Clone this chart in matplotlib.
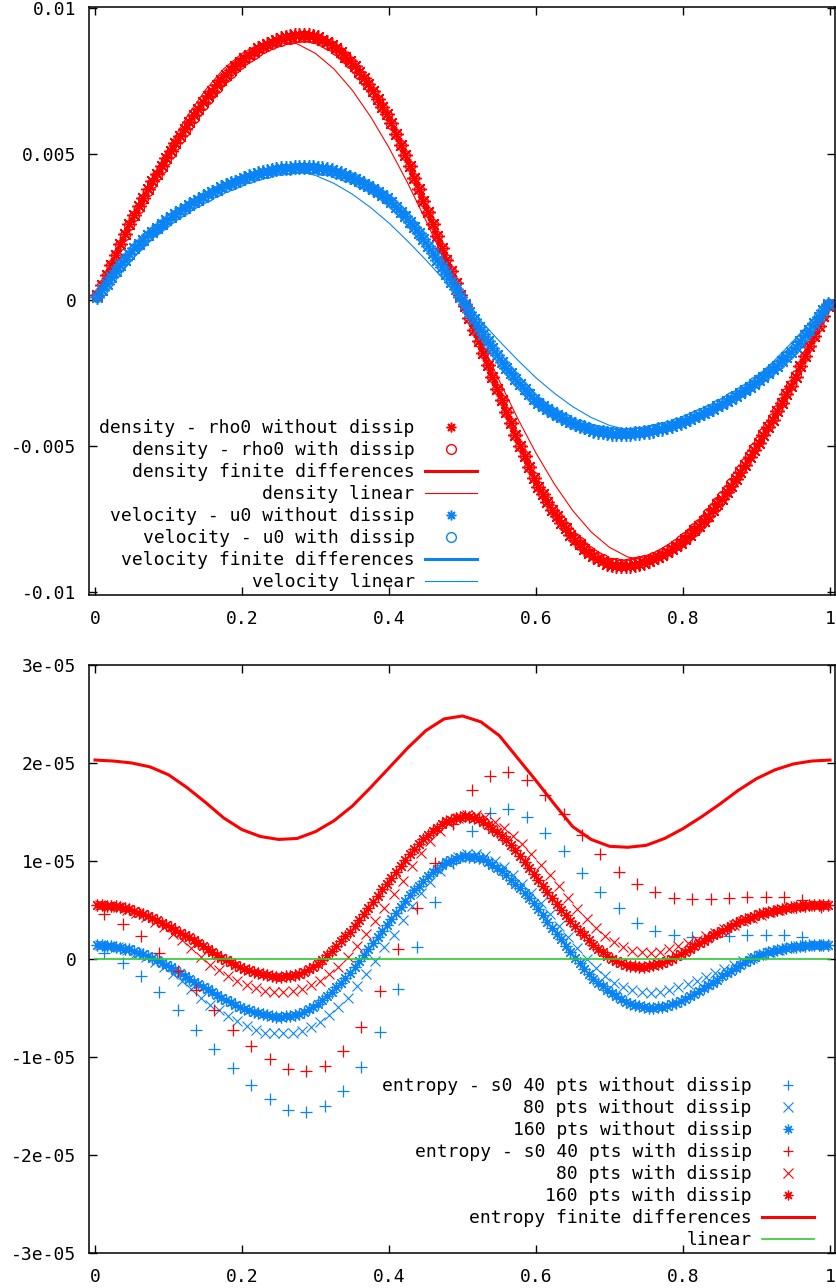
import numpy as np
import matplotlib
matplotlib.use("Agg")
import matplotlib.pyplot as plt
from matplotlib.ticker import FormatStrFormatter

plt.rcParams['font.family'] = ['DejaVu Sans Mono']
plt.rcParams['axes.unicode_minus'] = False

RED = '#ff0000'
BLUE = '#0a84f5'
GREEN = '#2ec82e'

# ---------------- top panel: density and velocity (values in 1e-5) ----------------
n_top = 160
density_nodiss = [
    18, 53, 88, 123, 157, 192, 226, 261, 293, 322, 351, 380, 408, 434, 461, 487,
    513, 538, 563, 588, 611, 634, 656, 679, 699, 718, 737, 756, 773, 788, 803, 818,
    830, 841, 852, 863, 872, 879, 886, 893, 898, 902, 905, 909, 910, 909, 908, 907,
    902, 893, 885, 876, 864, 850, 834, 820, 802, 781, 761, 740, 717, 691, 664, 638,
    607, 571, 534, 498, 460, 421, 381, 342, 302, 261, 221, 180, 140, 100, 60, 20,
    -20, -60, -100, -140, -180, -221, -261, -302, -342, -381, -421, -460, -498, -534, -571, -607,
    -638, -664, -691, -717, -740, -761, -781, -802, -820, -834, -850, -864, -876, -885, -893, -902,
    -907, -908, -909, -910, -909, -905, -902, -898, -893, -886, -879, -872, -863, -852, -841, -830,
    -818, -803, -788, -773, -756, -737, -718, -699, -679, -656, -634, -611, -588, -563, -538, -513,
    -487, -461, -434, -408, -380, -351, -322, -293, -261, -226, -192, -157, -123, -88, -53, -18]
density_diss = [
    17, 52, 86, 121, 155, 189, 223, 257, 289, 318, 347, 376, 403, 429, 455, 481,
    506, 531, 556, 581, 604, 626, 649, 671, 691, 710, 729, 748, 765, 780, 795, 810,
    822, 833, 844, 855, 864, 871, 878, 885, 890, 894, 897, 901, 903, 902, 901, 900,
    895, 887, 878, 870, 859, 844, 829, 814, 797, 777, 757, 737, 714, 688, 662, 636,
    605, 569, 534, 498, 460, 421, 381, 342, 302, 262, 221, 181, 141, 101, 60, 20,
    -20, -60, -101, -141, -181, -221, -262, -302, -342, -381, -421, -460, -498, -534, -569, -605,
    -636, -662, -688, -714, -737, -757, -777, -797, -814, -829, -844, -859, -870, -878, -887, -895,
    -900, -901, -902, -903, -901, -897, -894, -890, -885, -878, -871, -864, -855, -844, -833, -822,
    -810, -795, -780, -765, -748, -729, -710, -691, -671, -649, -626, -604, -581, -556, -531, -506,
    -481, -455, -429, -403, -376, -347, -318, -289, -257, -223, -189, -155, -121, -86, -52, -17]
velocity_nodiss = [
    11, 34, 56, 79, 100, 120, 140, 160, 178, 193, 208, 223, 236, 249, 261, 274,
    285, 296, 306, 317, 327, 336, 345, 354, 363, 371, 379, 387, 394, 401, 407, 414,
    420, 425, 430, 435, 439, 442, 446, 449, 452, 454, 455, 457, 458, 457, 457, 456,
    455, 452, 449, 446, 441, 435, 430, 424, 417, 409, 400, 392, 383, 372, 361, 350,
    337, 321, 304, 288, 270, 250, 230, 210, 188, 164, 139, 115, 90, 64, 39, 13,
    -13, -39, -64, -90, -115, -139, -164, -188, -210, -230, -250, -270, -288, -304, -321, -337,
    -350, -361, -372, -383, -392, -400, -409, -417, -424, -430, -435, -441, -446, -449, -452, -455,
    -456, -457, -457, -458, -457, -455, -454, -452, -449, -446, -442, -439, -435, -430, -425, -420,
    -414, -407, -401, -394, -387, -379, -371, -363, -354, -345, -336, -327, -317, -306, -296, -285,
    -274, -261, -249, -236, -223, -208, -193, -178, -160, -140, -120, -100, -79, -56, -34, -11]
velocity_diss = [
    11, 33, 55, 77, 98, 118, 137, 157, 175, 190, 205, 220, 233, 245, 258, 270,
    281, 292, 302, 313, 323, 332, 341, 350, 359, 367, 375, 383, 390, 397, 403, 410,
    416, 421, 426, 431, 435, 438, 442, 445, 448, 450, 451, 453, 454, 453, 453, 452,
    451, 448, 445, 442, 438, 433, 427, 422, 415, 407, 399, 391, 382, 371, 360, 349,
    336, 320, 304, 288, 270, 250, 230, 210, 188, 164, 139, 115, 90, 64, 39, 13,
    -13, -39, -64, -90, -115, -139, -164, -188, -210, -230, -250, -270, -288, -304, -320, -336,
    -349, -360, -371, -382, -391, -399, -407, -415, -422, -427, -433, -438, -442, -445, -448, -451,
    -452, -453, -453, -454, -453, -451, -450, -448, -445, -442, -438, -435, -431, -426, -421, -416,
    -410, -403, -397, -390, -383, -375, -367, -359, -350, -341, -332, -323, -313, -302, -292, -281,
    -270, -258, -245, -233, -220, -205, -190, -175, -157, -137, -118, -98, -77, -55, -33, -11]

x_line = np.linspace(0, 1, 41)
density_fd = [0, 140, 278, 395, 500, 600, 690, 765, 825, 868, 896, 911, 906, 872, 812, 730, 625, 480, 322, 160,
              0, -160, -322, -480, -625, -730, -812, -872, -906, -911, -896, -868, -825, -765, -690, -600,
              -500, -395, -278, -140, 0]
density_lin = [0, 139, 275, 404, 523, 629, 720, 793, 846, 879, 890, 879, 846, 793, 720, 629, 523, 404, 275, 139,
               0, -139, -275, -404, -523, -629, -720, -793, -846, -879, -890, -879, -846, -793, -720, -629,
               -523, -404, -275, -139, 0]
velocity_fd = [0, 90, 170, 230, 280, 322, 359, 391, 417, 437, 451, 458, 456, 444, 421, 388, 345, 280, 200, 103,
               0, -103, -200, -280, -345, -388, -421, -444, -456, -458, -451, -437, -417, -391, -359, -322,
               -280, -230, -170, -90, 0]
velocity_lin = [0, 70, 139, 204, 265, 318, 364, 401, 428, 444, 450, 444, 428, 401, 364, 318, 265, 204, 139, 70,
                0, -70, -139, -204, -265, -318, -364, -401, -428, -444, -450, -444, -428, -401, -364, -318,
                -265, -204, -139, -70, 0]

# ---------------- bottom panel: entropy (values in 1e-7) ----------------
s40_nodiss = [6, -4, -17, -34, -52, -72, -92, -111, -129, -143, -154, -156, -150, -135, -110, -74,
              -31, 12, 58, 98, 131, 149, 153, 145, 129, 110, 88, 68, 52, 37, 29, 24,
              22, 22, 23, 24, 24, 24, 22, 14]
s80_nodiss = [14, 13, 12, 9, 6, 2, -3, -8, -15, -22, -31, -40, -47, -52, -58, -63, -68, -72, -75, -76,
              -76, -76, -73, -69, -64, -57, -49, -40, -28, -15, -2, 12, 25, 40, 54, 67, 79, 90, 98, 104,
              107, 107, 105, 100, 94, 86, 77, 67, 57, 46, 34, 22, 11, 0, -9, -17, -24, -29, -32, -34,
              -35, -34, -32, -29, -26, -22, -18, -14, -10, -6, -2, 1, 4, 7, 9, 11, 13, 13, 14, 14]
s160_nodiss = [
    14, 14, 13, 13, 12, 11, 10, 10, 8, 6, 5, 3, 1, -1, -4, -6,
    -8, -11, -14, -17, -20, -23, -26, -29, -31, -34, -37, -40, -42, -44, -47, -49,
    -51, -52, -54, -55, -56, -57, -58, -59, -59, -58, -58, -57, -56, -54, -51, -49,
    -46, -42, -38, -34, -29, -24, -19, -14, -8, -2, 4, 10, 16, 22, 29, 35,
    41, 47, 53, 59, 65, 70, 75, 80, 85, 89, 92, 96, 99, 101, 102, 104,
    105, 104, 104, 103, 102, 99, 96, 93, 90, 86, 81, 77, 72, 67, 62, 57,
    51, 45, 38, 32, 26, 20, 13, 7, 1, -4, -10, -15, -20, -24, -28, -32,
    -35, -38, -41, -44, -46, -47, -48, -49, -50, -50, -49, -49, -48, -46, -45, -43,
    -41, -38, -36, -33, -30, -27, -24, -21, -17, -14, -12, -9, -6, -3, -1, 2,
    4, 5, 7, 8, 9, 10, 11, 12, 12, 13, 13, 14, 14, 14, 14, 14]
s40_diss = [46, 36, 23, 6, -12, -32, -52, -72, -89, -102, -112, -114, -109, -94, -69, -33,
            10, 52, 98, 138, 172, 187, 191, 183, 167, 148, 127, 107, 89, 77, 68, 62,
            61, 61, 62, 63, 63, 63, 60, 53]
s80_diss = [55, 54, 53, 50, 47, 43, 38, 33, 26, 19, 11, 2, -6, -11, -17, -22, -27, -30, -33, -34,
            -34, -33, -31, -27, -22, -15, -8, 2, 13, 26, 39, 52, 66, 80, 95, 108, 120, 131, 139, 144,
            147, 147, 145, 140, 134, 126, 117, 107, 96, 86, 74, 62, 51, 41, 32, 23, 17, 12, 8, 7,
            6, 7, 10, 13, 16, 19, 23, 27, 31, 35, 39, 42, 45, 48, 50, 52, 54, 54, 55, 55]
s160_diss = [
    55, 55, 54, 54, 54, 53, 52, 51, 49, 47, 46, 44, 42, 40, 37, 35,
    33, 30, 27, 24, 22, 19, 16, 13, 10, 7, 4, 1, -1, -3, -6, -8,
    -10, -11, -13, -14, -15, -16, -17, -18, -18, -17, -17, -16, -15, -13, -10, -8,
    -5, -1, 4, 8, 13, 18, 23, 28, 34, 40, 46, 52, 58, 64, 71, 77,
    83, 89, 95, 101, 107, 112, 117, 122, 127, 131, 134, 138, 141, 142, 144, 145,
    146, 145, 144, 143, 140, 137, 133, 130, 126, 121, 116, 111, 105, 99, 93, 87,
    81, 75, 68, 62, 56, 50, 45, 39, 34, 29, 24, 19, 14, 10, 7, 3,
    0, -2, -4, -6, -7, -7, -8, -8, -7, -6, -5, -4, -2, 0, 3, 5,
    7, 10, 13, 16, 18, 21, 24, 27, 29, 32, 34, 37, 39, 41, 42, 44,
    46, 47, 48, 49, 50, 51, 52, 53, 53, 54, 54, 55, 55, 55, 55, 55]
entropy_fd = [203, 202, 200, 196, 188, 175, 160, 144, 132, 125, 122, 123, 130, 141, 156, 175, 195, 215, 233, 245,
              248, 242, 228, 205, 182, 158, 135, 122, 115, 114, 116, 123, 133, 145, 158, 172, 184, 193, 199, 202, 203]
entropy_lin_x = [0, 1]
entropy_lin = [0, 0]


def centers(n):
    return (np.arange(n) + 0.5) / n


ASTER = (8, 2, 0)
FONT = 13

fig = plt.figure(figsize=(8.37, 12.88), dpi=100)
W, H = 837, 1288
ax1 = fig.add_axes([89 / W, 1 - 595 / H, (835 - 89) / W, (595 - 7) / H])
ax2 = fig.add_axes([89 / W, 1 - 1253 / H, (835 - 89) / W, (1253 - 665) / H])

xt = centers(n_top)
ax1.plot(xt, np.array(density_nodiss) * 1e-5, ls='none', marker=ASTER, ms=10.5, mew=1.1, color=RED,
         label='density - rho0 without dissip')
ax1.plot(xt, np.array(density_diss) * 1e-5, ls='none', marker='o', ms=7, mew=1.0, mfc='none', color=RED,
         label='density - rho0 with dissip')
ax1.plot(x_line, np.array(density_fd) * 1e-5, color=RED, lw=2.2, label='density finite differences')
ax1.plot(x_line, np.array(density_lin) * 1e-5, color=RED, lw=0.8, label='density linear')
ax1.plot(xt, np.array(velocity_nodiss) * 1e-5, ls='none', marker=ASTER, ms=10.5, mew=1.1, color=BLUE,
         label='velocity - u0 without dissip')
ax1.plot(xt, np.array(velocity_diss) * 1e-5, ls='none', marker='o', ms=7, mew=1.0, mfc='none', color=BLUE,
         label='velocity - u0 with dissip')
ax1.plot(x_line, np.array(velocity_fd) * 1e-5, color=BLUE, lw=2.2, label='velocity finite differences')
ax1.plot(x_line, np.array(velocity_lin) * 1e-5, color=BLUE, lw=0.8, label='velocity linear')

ax2.plot(centers(40), np.array(s40_nodiss) * 1e-7, ls='none', marker='+', ms=8, mew=0.9, color=BLUE,
         label='entropy - s0 40 pts without dissip')
ax2.plot(centers(80), np.array(s80_nodiss) * 1e-7, ls='none', marker='x', ms=7.5, mew=0.8, color=BLUE,
         label='80 pts without dissip')
ax2.plot(centers(160), np.array(s160_nodiss) * 1e-7, ls='none', marker=ASTER, ms=8.5, mew=0.9, color=BLUE,
         label='160 pts without dissip')
ax2.plot(centers(40), np.array(s40_diss) * 1e-7, ls='none', marker='+', ms=8, mew=0.9, color=RED,
         label='entropy - s0 40 pts with dissip')
ax2.plot(centers(80), np.array(s80_diss) * 1e-7, ls='none', marker='x', ms=7.5, mew=0.8, color=RED,
         label='80 pts with dissip')
ax2.plot(centers(160), np.array(s160_diss) * 1e-7, ls='none', marker=ASTER, ms=8.5, mew=0.9, color=RED,
         label='160 pts with dissip')
ax2.plot(x_line, np.array(entropy_fd) * 1e-7, color=RED, lw=2.2, label='entropy finite differences')
ax2.plot(entropy_lin_x, entropy_lin, color=GREEN, lw=1.2, label='linear')

ax1.set_ylim(-0.01009, 0.01005)
ax1.set_yticks([-0.01, -0.005, 0, 0.005, 0.01])
ax2.set_ylim(-3e-5, 3e-5)
ax2.set_yticks([-3e-5, -2e-5, -1e-5, 0, 1e-5, 2e-5, 3e-5])

for ax in (ax1, ax2):
    ax.set_xlim(-0.0082, 1.0068)
    ax.set_xticks([0, 0.2, 0.4, 0.6, 0.8, 1])
    ax.xaxis.set_major_formatter(FormatStrFormatter('%g'))
    ax.yaxis.set_major_formatter(FormatStrFormatter('%g'))
    ax.tick_params(direction='in', top=True, right=True, length=6, width=1,
                   labelsize=FONT, colors='black')
    ax.tick_params(axis='x', pad=11)
    ax.tick_params(axis='y', pad=9)
    for sp in ax.spines.values():
        sp.set_linewidth(1.1)

leg_kw = dict(markerfirst=False, frameon=False, numpoints=1, handlelength=2.9, handletextpad=0.55,
              labelspacing=0.22, borderpad=0, borderaxespad=0, fontsize=FONT, loc='lower right')
leg1 = ax1.legend(bbox_to_anchor=(0.52, 0.007), **leg_kw)
leg2 = ax2.legend(bbox_to_anchor=(0.972, 0.007), **leg_kw)
# keep the legend markers at the smaller size seen in the key
for leg in (leg1, leg2):
    for h in leg.legend_handles:
        if h.get_marker() not in (None, 'None', ''):
            h.set_markersize(7)

fig.savefig('out.png', dpi=100)
